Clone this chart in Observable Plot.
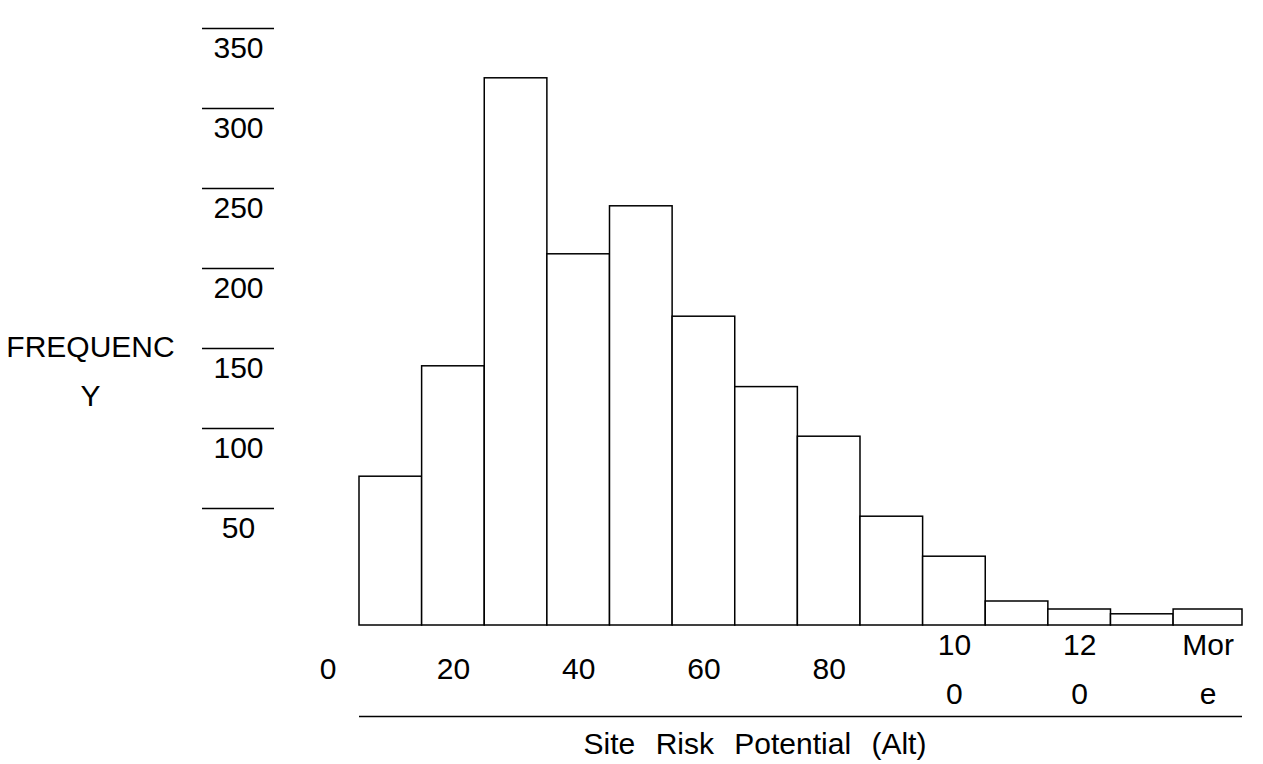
<!DOCTYPE html>
<html>
<head>
<meta charset="utf-8">
<script src="https://cdn.jsdelivr.net/npm/d3@7"></script>
<script src="https://cdn.jsdelivr.net/npm/@observablehq/plot@0.6"></script>
<style>
  html, body { margin: 0; padding: 0; background: #fff; }
  svg text { word-spacing: 12px; }
</style>
</head>
<body>
<div id="chart"></div>
<script>
// Histogram bins (lower / upper edges in value units) and frequencies
const binLo = [5, 15, 25, 35, 45, 55, 65, 75, 85, 95, 105, 115, 125, 135];
const binHi = [15, 25, 35, 45, 55, 65, 75, 85, 95, 105, 115, 125, 135, 146];
const freq  = [93, 162, 342, 232, 262, 193, 149, 118, 68, 43, 15, 10, 7, 10];

// X tick labels (wrapped as in the original) and their positions
const xTickValues = [0, 20, 40, 60, 80, 100, 120, 140.5];
const xTickLabels = ["0", "20", "40", "60", "80", "10\n0", "12\n0", "Mor\ne"];

// Y ticks
const yTicks = [50, 100, 150, 200, 250, 300, 350];

const xTitle = "Site Risk Potential (Alt)";
const yTitle = "FREQUENC\nY";

const bars = freq.map((v, i) => ({lo: binLo[i], hi: binHi[i], v}));
const xt = xTickValues.map((x, i) => ({x, label: xTickLabels[i]}));

const font = "'Liberation Sans', Arial, sans-serif";
const fs = 30;

const chart = Plot.plot({
  width: 1263,
  height: 764,
  marginLeft: 359,
  marginRight: 21,
  marginTop: 65,
  marginBottom: 139,
  style: `font-family: ${font}; background: white; overflow: visible; color: black;`,
  x: {domain: [5, 146], axis: null},
  y: {domain: [0, 350], axis: null},
  marks: [
    Plot.rectY(bars, {x1: "lo", x2: "hi", y: "v", fill: "white", stroke: "black", strokeWidth: 1.5}),
    // y tick lines (drawn above the labels, as in the reference)
    Plot.axisY({ticks: yTicks, tickSize: 72, dx: -85, dy: -37, tickFormat: () => "", label: null, strokeWidth: 1.3}),
    // y tick labels
    Plot.text(yTicks, {y: d => d, text: d => String(d), frameAnchor: "left", dx: -121, dy: -17, textAnchor: "middle", fontSize: fs, fill: "black"}),
    // y title
    Plot.text([yTitle], {frameAnchor: "left", dx: -269, dy: 20, textAnchor: "middle", fontSize: fs, lineHeight: 1.63, fill: "black"}),
    // x tick labels
    Plot.text(xt, {x: "x", y: () => 0, text: "label", dy: 38, textAnchor: "middle", lineAnchor: "middle", fontSize: fs, lineHeight: 1.63, fill: "black"}),
    // line under x tick labels
    Plot.ruleY([0], {dy: 91, stroke: "black", strokeWidth: 1.3}),
    // x title
    Plot.text([xTitle], {frameAnchor: "bottom", dx: -46, dy: 128, textAnchor: "middle", fontSize: fs, fill: "black"})
  ]
});

document.getElementById("chart").appendChild(chart);
</script>
</body>
</html>
